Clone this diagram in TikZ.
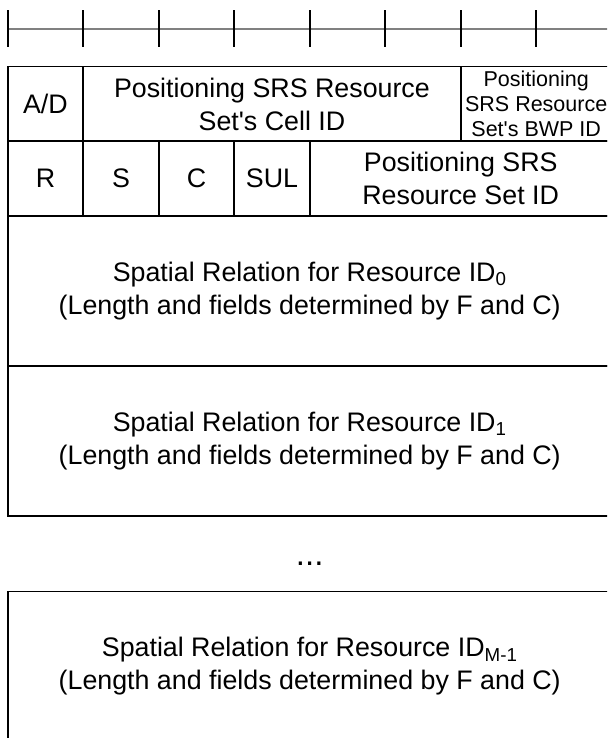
\documentclass[tikz,border=0pt]{standalone}
\usepackage{fontspec}
\setmainfont{Liberation Sans}
\newfontfamily\fieldfont{Liberation Sans}
\begin{document}
\begin{tikzpicture}[x=1pt,y=-1pt,
  field/.style={draw=black, line width=1.6pt, inner sep=0pt, align=center,
    font=\fieldfont\fontsize{26.8}{33}\selectfont},
  smallfield/.style={field, font=\fieldfont\fontsize{21.5}{25}\selectfont},
  ruler/.style={draw=black!50, line width=2pt},
  tick/.style={draw=black, line width=1.6pt},
  dotstext/.style={inner sep=0pt, font=\fieldfont\fontsize{33}{33}\selectfont}]
\useasboundingbox (0,0) rectangle (607,738);
\clip (0,0) rectangle (607,738);
% ruler
\coordinate (rl) at (7.7,29.3);
\coordinate (rr) at (640,29.3);
\draw[ruler] (rl) -- (rr);
\foreach \k in {0,...,8}{
  \coordinate (t\k a) at ({7.7+75.5*\k},10.5);
  \coordinate (t\k b) at ({7.7+75.5*\k},47.5);
  \draw[tick] (t\k a) -- (t\k b);
}
% row 1
\node[field, minimum width=75.5pt, minimum height=74.6pt] (ad) at (45.45,104) {A/D};
\node[field, minimum width=377.5pt, minimum height=74.6pt] (cell) at (271.95,104) {Positioning SRS Resource\\Set's Cell ID};
\node[smallfield, minimum width=151pt, minimum height=74.6pt] (bwp) at (536.2,104) {Positioning\\SRS Resource\\Set's BWP ID};
% row 2
\node[field, minimum width=75.5pt, minimum height=74.7pt] (r) at (45.45,178.65) {R};
\node[field, minimum width=75.5pt, minimum height=74.7pt] (s) at (120.95,178.65) {S};
\node[field, minimum width=75.5pt, minimum height=74.7pt] (c) at (196.45,178.65) {C};
\node[field, minimum width=75.5pt, minimum height=74.7pt] (sul) at (271.95,178.65) {SUL};
\node[field, minimum width=302pt, minimum height=74.7pt] (setid) at (460.7,178.65) {Positioning SRS\\Resource Set ID};
% spatial relation boxes
\node[field, minimum width=604pt, minimum height=150pt] (sr0) at (309.7,291) {Spatial Relation for Resource ID\textsubscript{0}\\(Length and fields determined by F and C)};
\node[field, minimum width=604pt, minimum height=150pt] (sr1) at (309.7,441) {Spatial Relation for Resource ID\textsubscript{1}\\(Length and fields determined by F and C)};
\node[dotstext] (dots) at (309.7,564) {...};
\node[field, minimum width=604pt, minimum height=150pt] (srm) at (309.7,666.5) {Spatial Relation for Resource ID\textsubscript{M-1}\\(Length and fields determined by F and C)};
\end{tikzpicture}
\end{document}
